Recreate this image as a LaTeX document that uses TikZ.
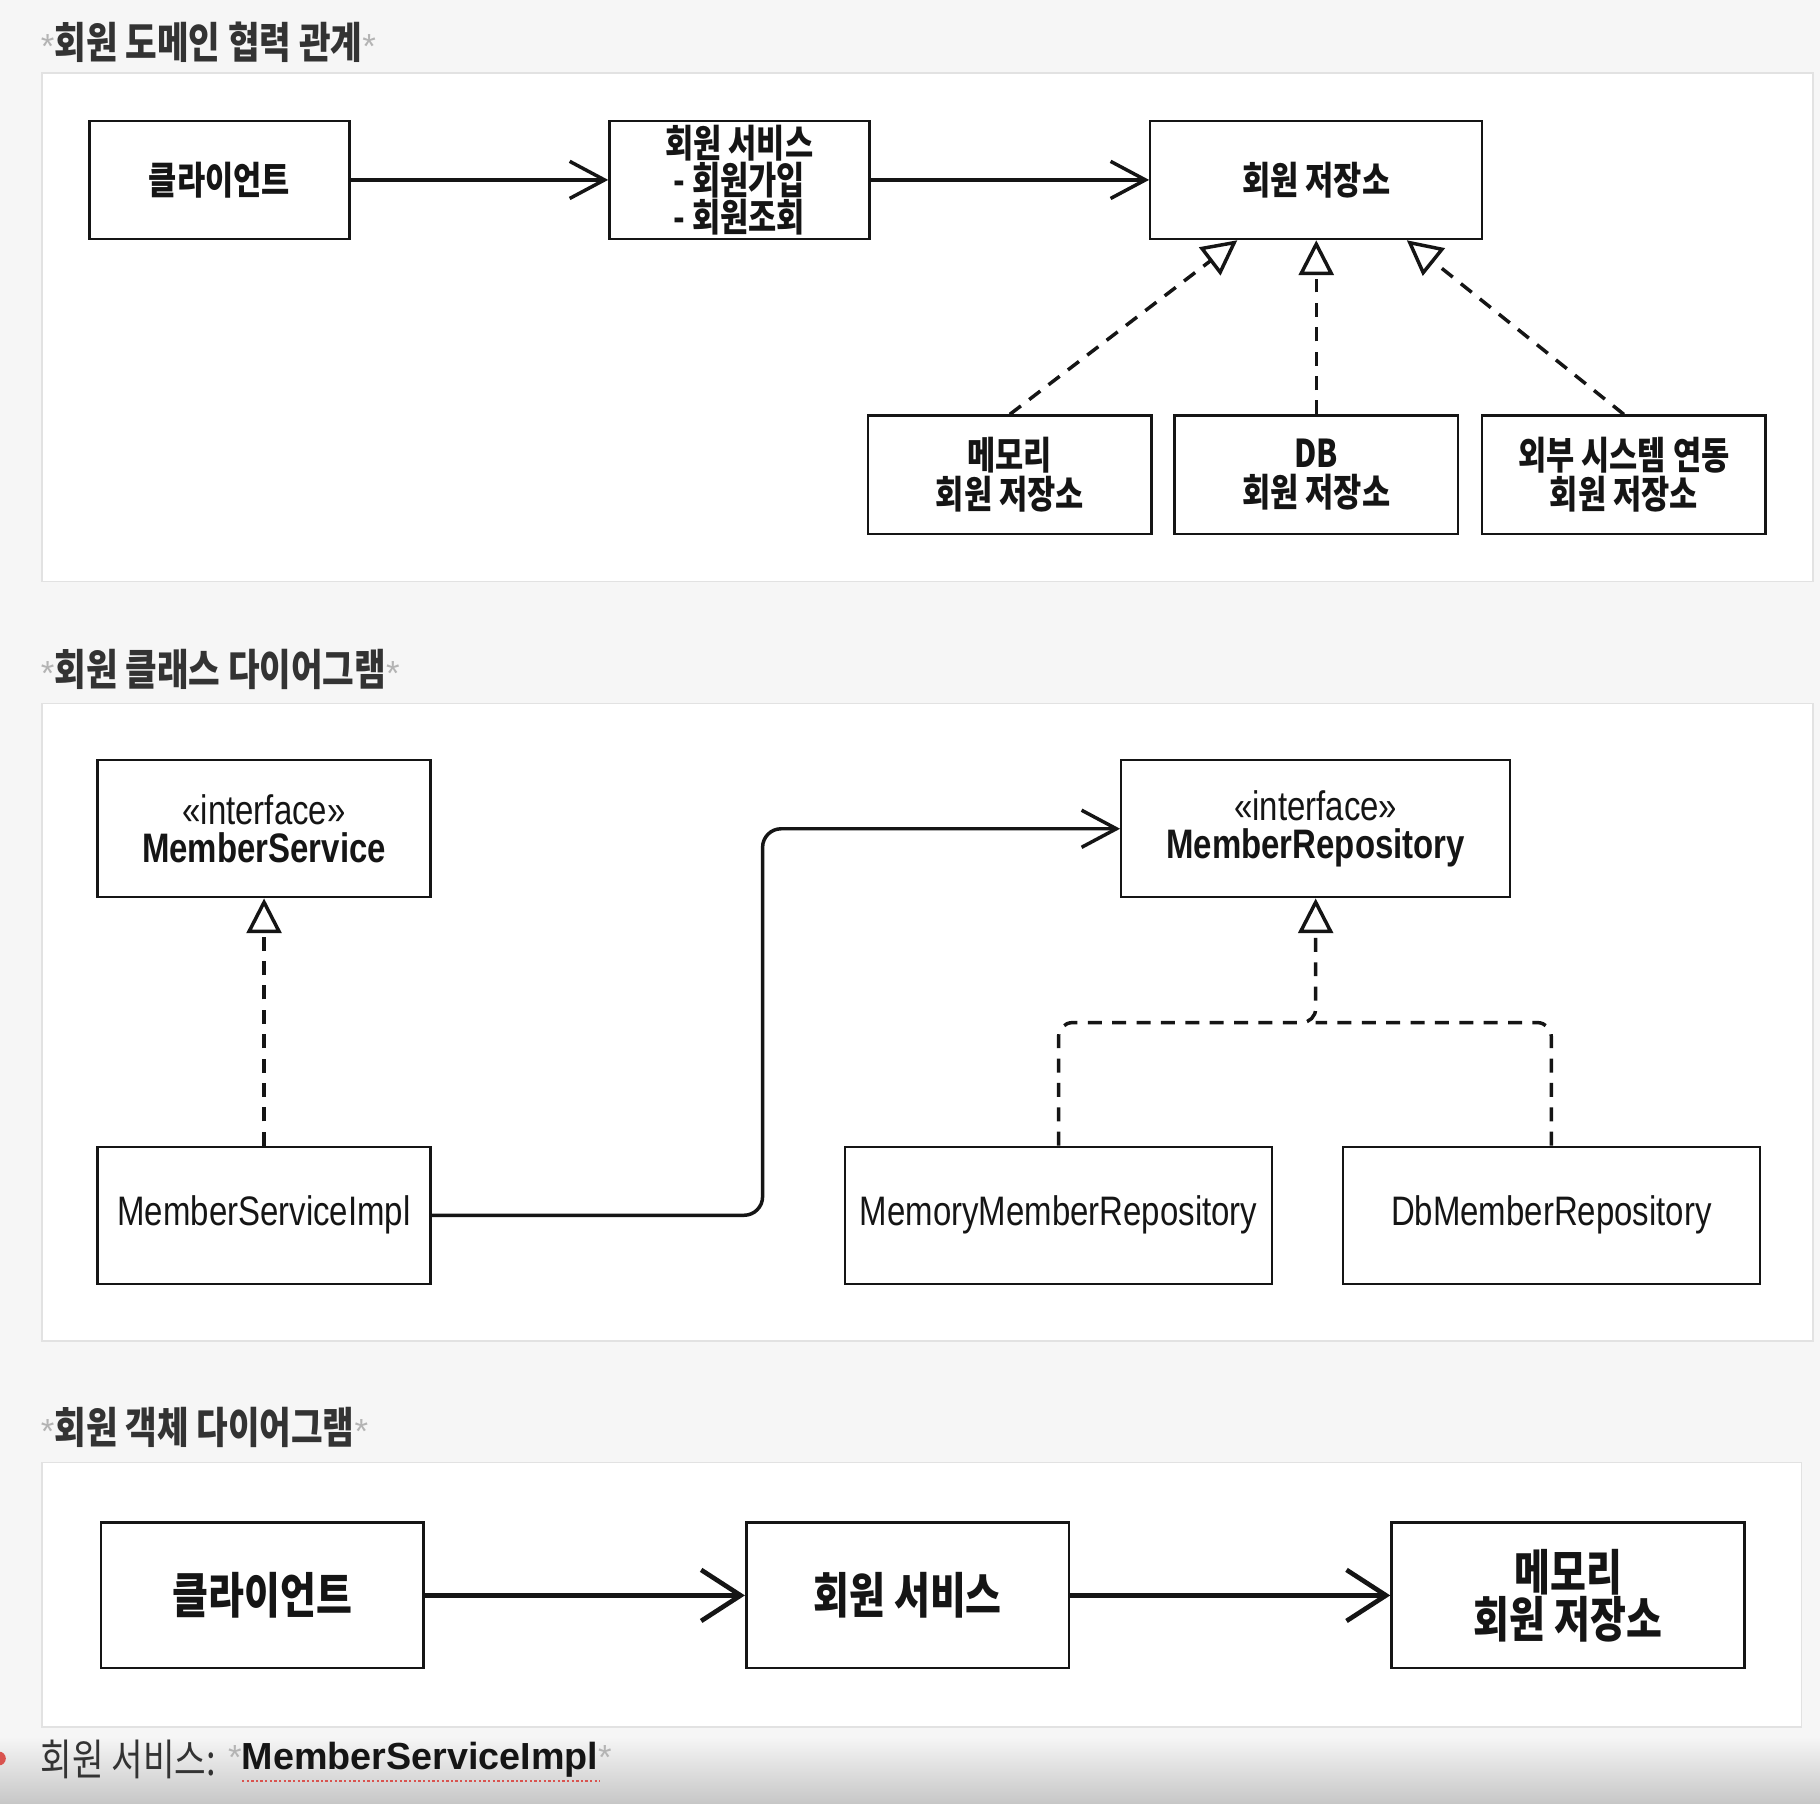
\documentclass[tikz,border=0pt]{standalone}
\usepackage{fontspec}
\setmainfont{Liberation Sans}[FakeStretch=0.8]
\newfontfamily\plainsans{Liberation Sans}
\newfontfamily\kr{Noto Sans CJK KR}[FakeStretch=0.8]
\usetikzlibrary{arrows.meta,calc}

\definecolor{pagebg}{HTML}{F6F6F6}
\definecolor{panelline}{HTML}{E2E2E2}
\definecolor{ink}{HTML}{151515}
\definecolor{titleink}{HTML}{333333}
\definecolor{stargray}{HTML}{B4B4B4}
\definecolor{spellred}{HTML}{D9534F}

\newcommand\pgstar{\textcolor{stargray}{\plainsans\mdseries\fontsize{30}{30}\selectfont *}}

\tikzset{
  panel/.style={draw=panelline, fill=white, line width=1.5pt},
  box/.style={draw=ink, line width=2pt, fill=white, inner sep=0pt, align=center, text=ink},
  kbox/.style={box, font=\kr\bfseries\fontsize{33}{33}\selectfont},
  cbox/.style={box, font=\fontsize{35.5}{33}\selectfont},
  obox/.style={box, line width=2.5pt, font=\kr\bfseries\fontsize{42}{39}\selectfont},
  uses/.style={draw=ink, line width=3pt, -{Straight Barb[length=30pt,width=32pt,line width=3pt]}},
  uses3/.style={draw=ink, line width=4pt, -{Straight Barb[length=34pt,width=44pt,line width=4pt]}},
  dashline/.style={draw=ink, line width=3pt, dash pattern=on 12pt off 9pt},
  realize/.style={dashline, -{Triangle[open,length=30pt,width=30pt,line width=3pt]}},
  paneltitle/.style={anchor=west, inner sep=0pt, text=titleink, font=\kr\bfseries\fontsize{37}{37}\selectfont},
}

\begin{document}
\begin{tikzpicture}[x=1pt,y=-1pt]
  \fill[pagebg] (0,0) rectangle (1568,1554);
  \useasboundingbox (0,0) rectangle (1568,1554);
  \shade[top color=pagebg, bottom color=black!22] (0,1496) rectangle (1568,1554);

  % panels
  \draw[panel] (36,63) rectangle (1562,501);
  \draw[panel] (36,606) rectangle (1562,1155);
  \draw[panel] (36,1260) rectangle (1552,1488);

  \node[paneltitle] (t1) at (35,36) {\pgstar 회원 도메인 협력 관계\pgstar};
  \node[paneltitle] (t2) at (35,577) {\pgstar 회원 클래스 다이어그램\pgstar};
  \node[paneltitle] (t3) at (35,1230) {\pgstar 회원 객체 다이어그램\pgstar};

  % domain collaboration
  \node[kbox, minimum width=224pt, minimum height=102pt] (client) at (189,155) {클라이언트};
  \node[kbox, minimum width=224pt, minimum height=102pt, font=\kr\bfseries\fontsize{33}{32}\selectfont] (service) at (637,155)
    {회원 서비스\\- 회원가입\\- 회원조회};
  \node[kbox, minimum width=286pt, minimum height=102pt] (repo) at (1134,155) {회원 저장소};
  \node[kbox, minimum width=244pt, minimum height=102pt] (mem) at (870,409) {메모리\\회원 저장소};
  \node[kbox, minimum width=244pt, minimum height=102pt] (db) at (1134,409) {DB\\회원 저장소};
  \node[kbox, minimum width=244pt, minimum height=102pt] (ext) at (1399,409) {외부 시스템 연동\\회원 저장소};

  \draw[uses] (client.east) -- (service.west);
  \draw[uses] (service.east) -- (repo.west);
  \draw[realize] (mem.north) -- ([xshift=-68pt]repo.south);
  \draw[realize] (db.north) -- (repo.south);
  \draw[realize] (ext.north) -- ([xshift=78pt]repo.south);

  % class diagram
  \node[cbox, minimum width=287pt, minimum height=118pt] (msvc) at (227.5,714)
    {«interface»\\\textbf{MemberService}};
  \node[cbox, minimum width=287pt, minimum height=118pt] (impl) at (227.5,1047) {MemberServiceImpl};
  \node[cbox, minimum width=335pt, minimum height=118pt] (mrepo) at (1133.5,714)
    {«interface»\\\textbf{MemberRepository}};
  \node[cbox, minimum width=368pt, minimum height=118pt] (memrepo) at (912,1047) {MemoryMemberRepository};
  \node[cbox, minimum width=359pt, minimum height=118pt] (dbrepo) at (1336.5,1047) {DbMemberRepository};

  \coordinate (bend) at (657,880);
  \coordinate (join) at ($(mrepo.south)+(0,107)$);
  \draw[uses, rounded corners=16pt] (impl.east) -- (impl.east -| bend) -- (mrepo.west -| bend) -- (mrepo.west);
  \draw[realize] (impl.north) -- (msvc.south);
  \draw[realize, rounded corners=12pt] (memrepo.north) |- (join) -- (mrepo.south);
  \draw[dashline, rounded corners=12pt] (dbrepo.north) |- (join);

  % object diagram
  \node[obox, minimum width=278pt, minimum height=125pt] (client3) at (226,1374.5) {클라이언트};
  \node[obox, minimum width=278pt, minimum height=125pt] (svc3) at (782,1374.5) {회원 서비스};
  \node[obox, minimum width=304pt, minimum height=125pt] (mem3) at (1351,1374.5) {메모리\\회원 저장소};

  \draw[uses3] (client3.east) -- (svc3.west);
  \draw[uses3] (svc3.east) -- (mem3.west);

  % note line
  \fill[spellred] (-1,1515) circle (6pt);
  \node[anchor=west, inner sep=0pt, text=titleink, font=\kr\fontsize{37}{37}\selectfont] (svclabel) at (35,1516) {회원 서비스:};
  \node[anchor=west, inner sep=0pt, text=ink, font=\plainsans\bfseries\fontsize{32.5}{32}\selectfont] (svcname) at ([xshift=10pt]svclabel.east)
    {\pgstar MemberServiceImpl\pgstar};
  \draw[spellred, line width=2pt, dash pattern=on 2pt off 2pt] ($(svcname.base west)+(12,10)$) -- ($(svcname.base east)+(-10,10)$);
\end{tikzpicture}
\end{document}
